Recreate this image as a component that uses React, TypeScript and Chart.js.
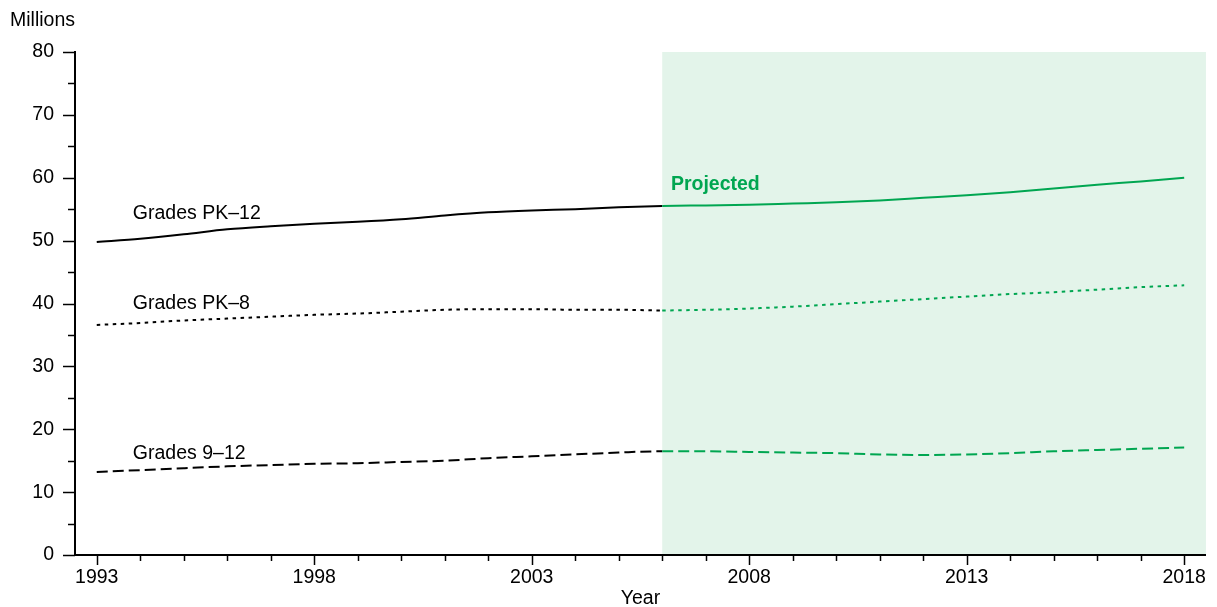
import { useEffect, useRef } from "react";
import { Chart, registerables } from "chart.js";

Chart.register(...registerables);

// ---- Data ----
const years = [
  1993, 1994, 1995, 1996, 1997, 1998, 1999, 2000, 2001, 2002, 2003, 2004, 2005,
  2006, 2007, 2008, 2009, 2010, 2011, 2012, 2013, 2014, 2015, 2016, 2017, 2018,
];
const gradesPK12 = [
  49.8, 50.3, 51.0, 51.8, 52.3, 52.7, 53.0, 53.4, 54.0, 54.5, 54.8, 55.0, 55.3,
  55.5, 55.6, 55.7, 55.9, 56.1, 56.4, 56.8, 57.2, 57.7, 58.3, 58.9, 59.4, 60.0,
];
const gradesPK8 = [
  36.6, 36.9, 37.3, 37.6, 37.9, 38.2, 38.4, 38.7, 39.0, 39.1, 39.1, 39.0, 39.0,
  38.9, 39.0, 39.2, 39.5, 39.9, 40.3, 40.7, 41.1, 41.5, 41.8, 42.2, 42.6, 42.9,
];
const grades9to12 = [
  13.2, 13.5, 13.8, 14.1, 14.3, 14.5, 14.6, 14.8, 15.0, 15.4, 15.7, 16.0, 16.3,
  16.5, 16.5, 16.4, 16.3, 16.2, 16.0, 15.9, 16.0, 16.2, 16.5, 16.7, 16.9, 17.1,
];
const projectionStartYear = 2006;
const xTickYears = [1993, 1998, 2003, 2008, 2013, 2018];
const yMajorTicks = [0, 10, 20, 30, 40, 50, 60, 70, 80];
const yMinorTicks = [5, 15, 25, 35, 45, 55, 65, 75];

const seriesLabels = [
  { text: "Grades PK–12", x: 1993.83, y: 53.5 },
  { text: "Grades PK–8", x: 1993.83, y: 39.2 },
  { text: "Grades 9–12", x: 1993.83, y: 15.2 },
];
const projectedLabel = { text: "Projected", x: 2006.2, y: 58.0 };

const BLACK = "#000000";
const GREEN = "#00a651";
const SHADE = "#e3f4ea";
const FONT = "'Liberation Sans', Arial, Helvetica, sans-serif";
const FONT_SIZE = 19.5;

const annotationPlugin = {
  id: "annotations",
  beforeDraw(chart: any) {
    const { ctx, chartArea, scales } = chart;
    const x0 = scales.x.getPixelForValue(projectionStartYear);
    ctx.save();
    ctx.fillStyle = SHADE;
    ctx.fillRect(x0, chartArea.top, chartArea.right - x0, chartArea.bottom - chartArea.top);
    ctx.restore();
  },
  afterDraw(chart: any) {
    const { ctx, chartArea, scales } = chart;
    const xs = scales.x;
    const ys = scales.y;
    ctx.save();
    ctx.strokeStyle = BLACK;
    ctx.lineWidth = 1.5;
    // y ticks
    yMajorTicks.forEach((v) => {
      const py = Math.round(ys.getPixelForValue(v)) + 0.5;
      ctx.beginPath();
      ctx.moveTo(chartArea.left - 12, py);
      ctx.lineTo(chartArea.left, py);
      ctx.stroke();
    });
    yMinorTicks.forEach((v) => {
      const py = Math.round(ys.getPixelForValue(v)) + 0.5;
      ctx.beginPath();
      ctx.moveTo(chartArea.left - 7, py);
      ctx.lineTo(chartArea.left, py);
      ctx.stroke();
    });
    // x ticks
    years.forEach((yr) => {
      const px = Math.round(xs.getPixelForValue(yr)) + 0.5;
      const len = xTickYears.includes(yr) ? 10 : 6;
      ctx.beginPath();
      ctx.moveTo(px, chartArea.bottom);
      ctx.lineTo(px, chartArea.bottom + len);
      ctx.stroke();
    });
    // texts
    ctx.fillStyle = BLACK;
    ctx.textBaseline = "alphabetic";
    ctx.textAlign = "left";
    ctx.font = `${FONT_SIZE}px ${FONT}`;
    ctx.fillText("Millions", 10, 25.5);
    seriesLabels.forEach((l) => {
      ctx.fillText(l.text, xs.getPixelForValue(l.x), ys.getPixelForValue(l.y));
    });
    ctx.fillStyle = GREEN;
    ctx.font = `bold ${FONT_SIZE}px ${FONT}`;
    ctx.fillText(
      projectedLabel.text,
      xs.getPixelForValue(projectedLabel.x),
      ys.getPixelForValue(projectedLabel.y)
    );
    ctx.restore();
  },
};

function makeDataset(label: string, values: number[], dash: number[]) {
  return {
    label,
    data: years.map((yr, i) => ({ x: yr, y: values[i] })),
    borderColor: BLACK,
    borderWidth: 2,
    borderDash: dash,
    pointRadius: 0,
    fill: false,
    cubicInterpolationMode: "monotone" as const,
    segment: {
      borderColor: (c: any) => (c.p0.parsed.x >= projectionStartYear ? GREEN : BLACK),
    },
  };
}

export default function App() {
  const canvasRef = useRef<HTMLCanvasElement | null>(null);

  useEffect(() => {
    document.body.style.margin = "0";
    const canvas = canvasRef.current;
    if (!canvas) return;
    const chart = new Chart(canvas, {
      type: "line",
      data: {
        datasets: [
          makeDataset("Grades PK–12", gradesPK12, []),
          makeDataset("Grades PK–8", gradesPK8, [3.5, 4.5]),
          makeDataset("Grades 9–12", grades9to12, [11, 5]),
        ],
      },
      options: {
        animation: false,
        responsive: true,
        maintainAspectRatio: false,
        layout: { padding: { top: 52, right: 6, bottom: 0, left: 0 } },
        plugins: {
          legend: { display: false },
          tooltip: { enabled: false },
        },
        scales: {
          x: {
            type: "linear",
            min: 1992.5,
            max: 2018.5,
            grid: { display: false, drawTicks: false, tickLength: 0 },
            border: { display: true, color: BLACK, width: 2 },
            afterBuildTicks: (scale: any) => {
              scale.ticks = xTickYears.map((v) => ({ value: v }));
            },
            afterFit: (scale: any) => {
              scale.height = 52;
            },
            ticks: {
              autoSkip: false,
              maxRotation: 0,
              padding: 11,
              color: BLACK,
              font: { family: FONT, size: FONT_SIZE },
              callback: (v: any) => String(v),
            },
            title: {
              display: true,
              text: "Year",
              color: BLACK,
              font: { family: FONT, size: FONT_SIZE },
              padding: { top: 0, bottom: -3 },
            },
          },
          y: {
            type: "linear",
            min: 0,
            max: 80,
            grid: { display: false, drawTicks: false, tickLength: 0 },
            border: { display: true, color: BLACK, width: 2 },
            afterFit: (scale: any) => {
              scale.width = 75;
            },
            ticks: {
              stepSize: 10,
              padding: 21,
              color: BLACK,
              font: { family: FONT, size: FONT_SIZE },
            },
          },
        },
      },
      plugins: [annotationPlugin],
    });
    return () => chart.destroy();
  }, []);

  return (
    <div style={{ position: "relative", width: "1217px", height: "607px" }}>
      <canvas ref={canvasRef} />
    </div>
  );
}
